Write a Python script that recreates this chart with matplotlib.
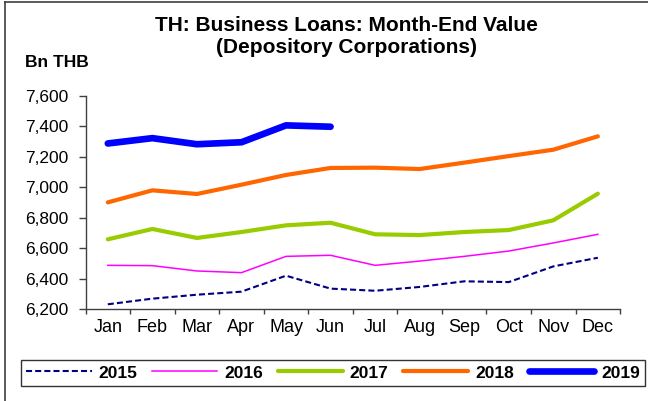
import matplotlib
matplotlib.use("Agg")
import matplotlib.pyplot as plt
from matplotlib.lines import Line2D
import numpy as np

plt.rcParams['font.family'] = ['Liberation Sans', 'DejaVu Sans']

months = ['Jan', 'Feb', 'Mar', 'Apr', 'May', 'Jun',
          'Jul', 'Aug', 'Sep', 'Oct', 'Nov', 'Dec']

# month-end business loans, Bn THB
y2015 = [6231, 6268, 6294, 6314, 6419, 6334, 6320, 6345, 6382, 6377, 6480, 6537]
y2016 = [6487, 6485, 6450, 6439, 6546, 6553, 6487, 6515, 6546, 6581, 6634, 6691]
y2017 = [6658, 6726, 6667, 6706, 6750, 6767, 6691, 6686, 6706, 6719, 6783, 6958]
y2018 = [6901, 6980, 6956, 7017, 7081, 7127, 7129, 7120, 7162, 7205, 7247, 7335]
y2019 = [7288, 7323, 7283, 7296, 7407, 7398]

fig = plt.figure(figsize=(6.48, 4.01), dpi=100)
ax = fig.add_axes([0.132, 0.2294, 0.825, 0.5312])

x = np.arange(len(months))
ax.plot(x, y2015, color='#000080', lw=1.5, ls=(0, (2.9, 1.5)), label='2015')
ax.plot(x, y2016, color='#FF00FF', lw=1.1, label='2016')
ax.plot(x, y2017, color='#99CC00', lw=3.0, solid_capstyle='round', label='2017')
ax.plot(x, y2018, color='#FF6600', lw=3.0, solid_capstyle='round', label='2018')
ax.plot(x[:len(y2019)], y2019, color='#0000FF', lw=4.8, solid_capstyle='round',
        solid_joinstyle='round', label='2019')

ax.set_xlim(-0.5, 11.5)
ax.set_ylim(6200, 7600)
ax.set_yticks(np.arange(6200, 7601, 200))
ax.set_yticklabels([f'{v:,}' for v in range(6200, 7601, 200)], fontsize=12.5)

# month names sit between the category boundary ticks
ax.set_xticks(np.arange(-0.5, 12, 1))
ax.set_xticklabels([])
ax.set_xticks(x, minor=True)
ax.set_xticklabels(months, minor=True, fontsize=13)
ax.tick_params(axis='x', which='minor', length=0, pad=7)
ax.tick_params(axis='x', which='major', length=3.6, width=1, color='#404040')
ax.tick_params(axis='y', length=5, width=1, color='#404040', pad=7.7)

for s in ['top', 'right']:
    ax.spines[s].set_visible(False)
for s in ['left', 'bottom']:
    ax.spines[s].set_color('#404040')
    ax.spines[s].set_linewidth(1)

fig.text(0.535, 0.9234, 'TH: Business Loans: Month-End Value',
         ha='center', va='baseline', fontsize=15, fontweight='bold')
fig.text(0.535, 0.8686, '(Depository Corporations)',
         ha='center', va='baseline', fontsize=15, fontweight='bold')
fig.text(0.038, 0.843, 'Bn THB', ha='left', va='center', fontsize=12.5, fontweight='bold')

leg = fig.legend(loc='center', bbox_to_anchor=(0.514, 0.070), ncol=5,
                 frameon=True, fancybox=False, edgecolor='black',
                 prop={'weight': 'bold', 'size': 12.5},
                 handlelength=3.75, columnspacing=0.85, handletextpad=0.4,
                 borderpad=0.3, borderaxespad=0)
leg.get_frame().set_linewidth(1.0)

# outer chart border
fig.add_artist(Line2D([0.008, 1.0], [0.994, 0.994], transform=fig.transFigure,
                      color='#404040', lw=1.2))
fig.add_artist(Line2D([0.008, 0.008], [0.0, 0.994], transform=fig.transFigure,
                      color='#404040', lw=1.2))

fig.savefig('out.png', dpi=100)
